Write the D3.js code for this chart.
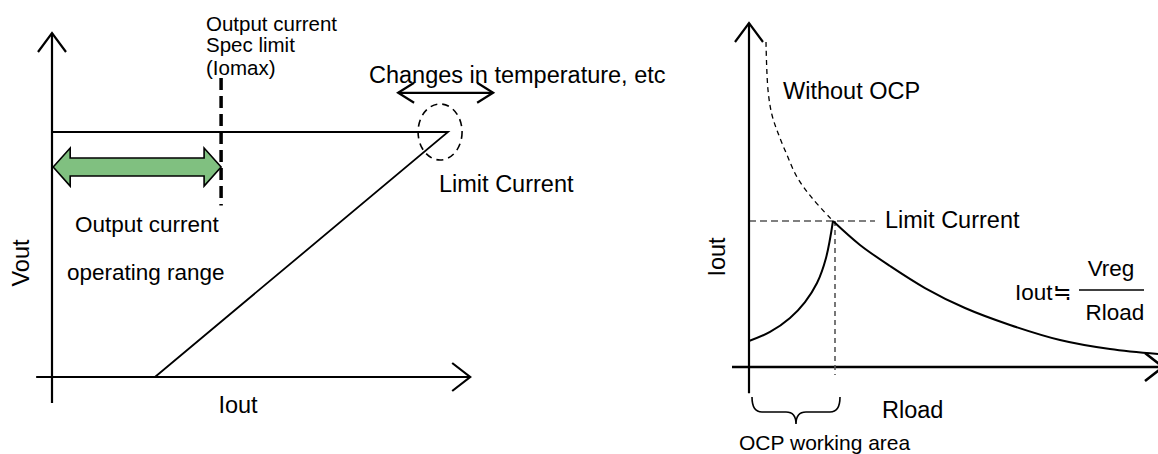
<!DOCTYPE html>
<html><head><meta charset="utf-8">
<script src="https://cdn.jsdelivr.net/npm/d3@7"></script>
<style>
html,body{margin:0;padding:0;background:#fff;}
svg{display:block;}
text{font-family:"Liberation Sans",Arial,"Noto Sans CJK JP",sans-serif;fill:#000;}
</style>
</head><body>
<svg id="c" width="1158" height="454"></svg>
<script>
// ---------- DATA: left chart (Vout vs Iout, arbitrary units) ----------
const leftAxisI = [-4, 105.6];
const leftAxisV = [-10.6, 140.4];
const charI = [0, 100, 26];          // output characteristic (Iout)
const charV = [100, 100, 0];         // output characteristic (Vout)
const iomaxI = 42.7;
const iomaxSpan = [70, 122];
const opRangeI = [0.3, 42.7];
const opRangeV = 85.7;
const limitPointL = [98, 100];
const tempShiftI = [87.4, 111.4];
const tempShiftV = 116;

// ---------- DATA: right chart (Iout vs Rload, arbitrary units) ----------
const rightAxisR = [-4.25, 103.5];
const rightAxisI = [-18, 235.6];
const ocpR = [0, 5.25, 10.25, 14, 17, 19.25, 21];
const ocpI = [17.8, 24, 33.6, 44.5, 57.5, 74.7, 100];
const regR = [21, 27.75, 35.25, 44, 54, 65.25, 77.75, 90.25, 102.25];
const regI = [100, 83.6, 69.2, 54.1, 40.4, 28.8, 18.5, 12.3, 8.9];
const noOcpR = [4.25, 4.75, 5.75, 7.25, 9.5, 12, 15.75, 21];
const noOcpI = [222.6, 189.7, 172.6, 160.3, 145.2, 130.1, 115.8, 100];
const limitCurrent = 100;
const limitLineR = [0, 31.5];
const limitR = 21.5;
const limitDropI = -5.5;
const braceR = [0.75, 22.75];

// ---------- TEXT ----------
const labelsLeft = ["Output current", "Spec limit", "(Iomax)", "Changes in temperature, etc",
  "Limit Current", "Output current", "operating range", "Vout", "Iout"];
const labelsRight = ["Without OCP", "Limit Current", "Iout", "Rload", "OCP working area",
  "Iout", "≒", "Vreg", "Rload"];

// ---------- SCALES ----------
const xL = d3.scaleLinear().domain([0, 100]).range([52, 448]);
const yL = d3.scaleLinear().domain([0, 100]).range([377, 132]);
const xR = d3.scaleLinear().domain([0, 100]).range([749, 1149]);
const yR = d3.scaleLinear().domain([0, 100]).range([367, 221]);

const svg = d3.select("#c");
const line = d3.line();

function axisArrowUp(x, yTop, yBot, sw) {
  svg.append("line").attr("x1", x).attr("x2", x).attr("y1", yTop).attr("y2", yBot)
    .attr("stroke", "#000").attr("stroke-width", sw);
  svg.append("path").attr("d", line([[x - 14, yTop + 19], [x, yTop], [x + 14, yTop + 19]]))
    .attr("fill", "none").attr("stroke", "#000").attr("stroke-width", sw);
}
function axisArrowRight(y, xL0, xTip, sw) {
  svg.append("line").attr("x1", xL0).attr("x2", xTip).attr("y1", y).attr("y2", y)
    .attr("stroke", "#000").attr("stroke-width", sw);
  svg.append("path").attr("d", line([[xTip - 18, y - 14], [xTip, y], [xTip - 18, y + 14]]))
    .attr("fill", "none").attr("stroke", "#000").attr("stroke-width", sw);
}

// ================= LEFT CHART =================
axisArrowUp(xL(0), yL(leftAxisV[1]), yL(leftAxisV[0]), 2.2);
axisArrowRight(yL(0), xL(leftAxisI[0]), xL(leftAxisI[1]), 2.2);

// output characteristic
svg.append("path")
  .attr("d", line(charI.map((d, i) => [xL(d), yL(charV[i])])))
  .attr("fill", "none").attr("stroke", "#000").attr("stroke-width", 1.8)
  .attr("stroke-linejoin", "miter");

// Iomax dashed line
svg.append("line").attr("x1", xL(iomaxI)).attr("x2", xL(iomaxI))
  .attr("y1", yL(iomaxSpan[1])).attr("y2", yL(iomaxSpan[0]))
  .attr("stroke", "#000").attr("stroke-width", 3.5).attr("stroke-dasharray", "12,6");

// green double arrow
(function () {
  const x0 = xL(opRangeI[0]), x1 = xL(opRangeI[1]), yc = yL(opRangeV);
  const hl = 17, hh = 19, sh = 9;
  const pts = [[x0, yc], [x0 + hl, yc - hh], [x0 + hl, yc - sh], [x1 - hl, yc - sh], [x1 - hl, yc - hh],
    [x1, yc], [x1 - hl, yc + hh], [x1 - hl, yc + sh], [x0 + hl, yc + sh], [x0 + hl, yc + hh]];
  svg.append("path").attr("d", line(pts) + "Z")
    .attr("fill", "#80c080").attr("stroke", "#000").attr("stroke-width", 1.6)
    .attr("stroke-linejoin", "miter");
})();

// dashed ellipse at limit point
svg.append("ellipse").attr("cx", xL(limitPointL[0])).attr("cy", yL(limitPointL[1]))
  .attr("rx", 22).attr("ry", 28).attr("fill", "none").attr("stroke", "#000")
  .attr("stroke-width", 1.6).attr("stroke-dasharray", "7,5");

// temperature double arrow
(function () {
  const x0 = xL(tempShiftI[0]), x1 = xL(tempShiftI[1]), y = yL(tempShiftV);
  svg.append("line").attr("x1", x0).attr("x2", x1).attr("y1", y).attr("y2", y)
    .attr("stroke", "#000").attr("stroke-width", 2.2);
  svg.append("path").attr("d", line([[x0 + 16, y - 10], [x0, y], [x0 + 16, y + 10]]))
    .attr("fill", "none").attr("stroke", "#000").attr("stroke-width", 2.2);
  svg.append("path").attr("d", line([[x1 - 16, y - 10], [x1, y], [x1 - 16, y + 10]]))
    .attr("fill", "none").attr("stroke", "#000").attr("stroke-width", 2.2);
})();

// left labels
const T = (txt, x, y, size, anchor) => svg.append("text").attr("x", x).attr("y", y)
  .attr("font-size", size).attr("text-anchor", anchor || "start").text(txt);
T(labelsLeft[0], 206, 31, 20.5);
T(labelsLeft[1], 206, 52, 20.5);
T(labelsLeft[2], 206, 75, 20.5);
T(labelsLeft[3], 369, 83, 23.5);
T(labelsLeft[4], 439, 192, 23.5);
T(labelsLeft[5], 75, 232, 22.5);
T(labelsLeft[6], 67, 280, 22.5);
svg.append("text").attr("transform", "translate(29,263) rotate(-90)")
  .attr("font-size", 23.5).attr("text-anchor", "middle").text(labelsLeft[7]);
T(labelsLeft[8], 238, 413, 23.5, "middle");

// ================= RIGHT CHART =================
axisArrowUp(xR(0), yR(rightAxisI[1]), yR(rightAxisI[0]), 2.2);
axisArrowRight(yR(0), xR(rightAxisR[0]), xR(rightAxisR[1]), 2.6);

// limit current horizontal dashed
svg.append("line").attr("x1", xR(limitLineR[0])).attr("x2", xR(limitLineR[1]))
  .attr("y1", yR(limitCurrent)).attr("y2", yR(limitCurrent))
  .attr("stroke", "#000").attr("stroke-width", 1.2).attr("stroke-dasharray", "7,4");
// vertical dashed
svg.append("line").attr("x1", xR(limitR)).attr("x2", xR(limitR))
  .attr("y1", yR(limitCurrent)).attr("y2", yR(limitDropI))
  .attr("stroke", "#555").attr("stroke-width", 1.6).attr("stroke-dasharray", "5,4");

const curve = d3.line().x(d => xR(d[0])).y(d => yR(d[1])).curve(d3.curveCatmullRom.alpha(0.5));
svg.append("path").attr("d", curve(noOcpR.map((d, i) => [d, noOcpI[i]])))
  .attr("fill", "none").attr("stroke", "#000").attr("stroke-width", 1.3).attr("stroke-dasharray", "5,4");
svg.append("path").attr("d", curve(ocpR.map((d, i) => [d, ocpI[i]])))
  .attr("fill", "none").attr("stroke", "#000").attr("stroke-width", 2);
svg.append("path").attr("d", curve(regR.map((d, i) => [d, regI[i]])))
  .attr("fill", "none").attr("stroke", "#000").attr("stroke-width", 2);

// brace
(function () {
  const a = xR(braceR[0]), b = xR(braceR[1]), m = (a + b) / 2, top = 397, mid = 412, tip = 424;
  const d = `M${a},${top} Q${a},${mid} ${a + 10},${mid} L${m - 10},${mid} Q${m},${mid} ${m},${tip} ` +
    `Q${m},${mid} ${m + 10},${mid} L${b - 10},${mid} Q${b},${mid} ${b},${top}`;
  svg.append("path").attr("d", d).attr("fill", "none").attr("stroke", "#000").attr("stroke-width", 1.6);
})();

// right labels
T(labelsRight[0], 783, 99, 23.5);
T(labelsRight[1], 885, 228, 23.5);
svg.append("text").attr("transform", "translate(725,257) rotate(-90)")
  .attr("font-size", 23.5).attr("text-anchor", "middle").text(labelsRight[2]);
T(labelsRight[3], 882, 418, 23.5);
T(labelsRight[4], 739, 450, 21);
const f = svg.append("text").attr("x", 1015).attr("y", 300).attr("font-size", 22.5);
f.append("tspan").text(labelsRight[5]);
f.append("tspan").attr("font-family", "'Noto Sans CJK JP'").attr("font-size", 22).text(labelsRight[6]);
svg.append("line").attr("x1", 1079).attr("x2", 1144).attr("y1", 290).attr("y2", 290)
  .attr("stroke", "#000").attr("stroke-width", 1.6);
T(labelsRight[7], 1111, 276, 22.5, "middle");
T(labelsRight[8], 1115, 320, 22.5, "middle");
</script>
</body></html>
